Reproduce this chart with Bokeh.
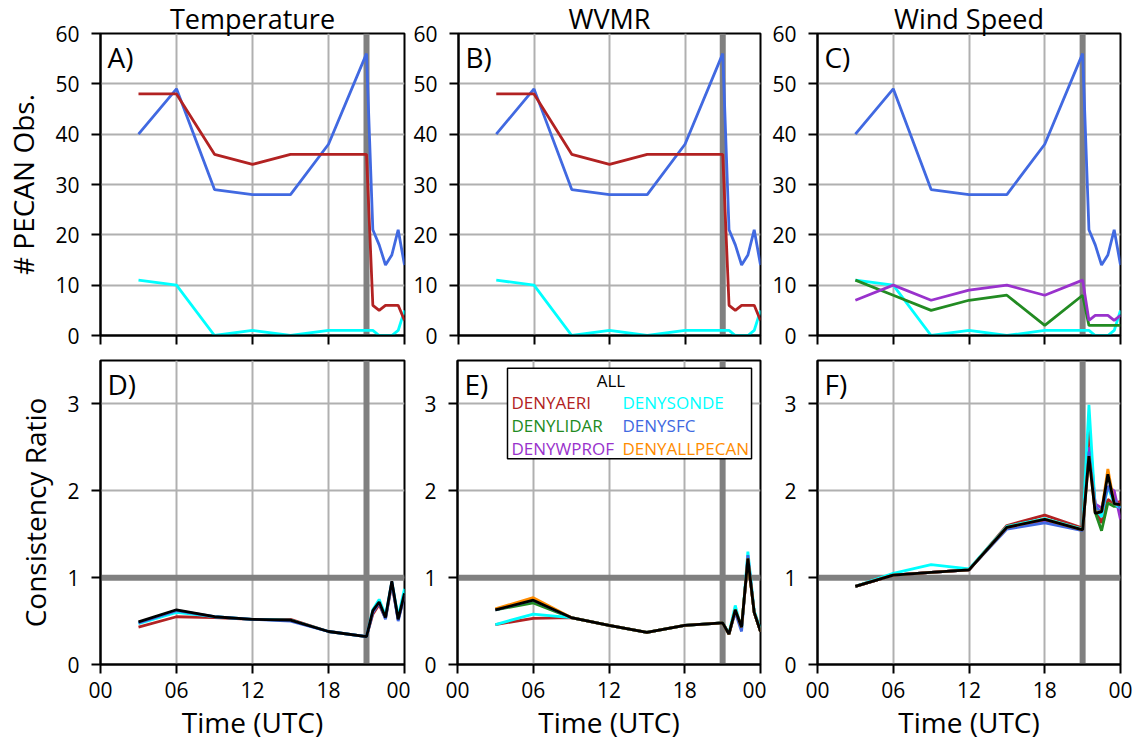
from bokeh.plotting import figure
from bokeh.layouts import column, row
from bokeh.models import Range1d, FixedTicker, Span, Label, ColumnDataSource
from bokeh.embed import file_html
from bokeh.resources import INLINE
from bokeh.core.properties import value

FONT = "Open Sans"

# ---------------- data ----------------
hours = [3, 6, 9, 12, 15, 18, 21, 21.5, 22, 22.5, 23, 23.5, 24]
x_ticks = [0, 6, 12, 18, 24]
x_tick_labels = ["00", "06", "12", "18", "00"]
obs_ticks = [0, 10, 20, 30, 40, 50, 60]
ratio_ticks = [0, 1, 2, 3]
columns_titles = ["Temperature", "WVMR", "Wind Speed"]
panel_letters = [["A)", "B)", "C)"], ["D)", "E)", "F)"]]

# number of PECAN observations (top row)
sfc_obs = [40, 49, 29, 28, 28, 38, 56, 21, 18, 14, 16, 21, 14]
aeri_obs = [48, 48, 36, 34, 36, 36, 36, 6, 5, 6, 6, 6, 3]
sonde_obs = [11, 10, 0, 1, 0, 1, 1, 1, 0, 0, 0, 1, 5]
lidar_obs = [11, 8, 5, 7, 8, 2, 8, 2, 2, 2, 2, 2, 2]
wprof_obs = [7, 10, 7, 9, 10, 8, 11, 3, 4, 4, 4, 3, 4]

# consistency ratio, temperature
all_T = [0.49, 0.63, 0.55, 0.52, 0.51, 0.38, 0.32, 0.62, 0.72, 0.54, 0.96, 0.52, 0.82]
aeri_T = [0.43, 0.55, 0.54, 0.52, 0.52, 0.38, 0.32, 0.58, 0.69, 0.53, 0.92, 0.52, 0.80]
sonde_T = [0.47, 0.60, 0.55, 0.52, 0.51, 0.38, 0.32, 0.63, 0.75, 0.56, 0.95, 0.55, 0.87]
sfc_T = [0.48, 0.62, 0.55, 0.52, 0.50, 0.38, 0.32, 0.60, 0.71, 0.52, 0.95, 0.50, 0.80]

# consistency ratio, WVMR
all_Q = [0.63, 0.74, 0.54, 0.45, 0.37, 0.45, 0.48, 0.35, 0.63, 0.43, 1.22, 0.60, 0.38]
aeri_Q = [0.46, 0.53, 0.54, 0.45, 0.37, 0.45, 0.48, 0.35, 0.62, 0.43, 1.20, 0.60, 0.38]
sonde_Q = [0.46, 0.58, 0.54, 0.45, 0.37, 0.45, 0.48, 0.36, 0.68, 0.40, 1.30, 0.62, 0.40]
lidar_Q = [0.63, 0.71, 0.54, 0.45, 0.37, 0.45, 0.48, 0.35, 0.63, 0.43, 1.22, 0.60, 0.38]
sfc_Q = [0.63, 0.74, 0.54, 0.45, 0.37, 0.45, 0.48, 0.35, 0.60, 0.38, 1.26, 0.60, 0.38]
allpecan_Q = [0.64, 0.77, 0.54, 0.45, 0.37, 0.45, 0.48, 0.35, 0.63, 0.43, 1.22, 0.60, 0.38]

# consistency ratio, wind speed
all_W = [0.90, 1.03, 1.06, 1.09, 1.58, 1.67, 1.55, 2.40, 1.74, 1.76, 2.19, 1.85, 1.84]
aeri_W = [0.90, 1.03, 1.06, 1.09, 1.60, 1.72, 1.57, 2.76, 1.80, 1.63, 1.90, 1.85, 1.88]
sonde_W = [0.90, 1.05, 1.15, 1.10, 1.59, 1.68, 1.56, 2.99, 1.80, 1.70, 2.05, 1.85, 1.80]
lidar_W = [0.90, 1.03, 1.06, 1.09, 1.58, 1.67, 1.55, 2.50, 1.75, 1.54, 1.86, 1.82, 1.82]
wprof_W = [0.90, 1.03, 1.06, 1.09, 1.58, 1.66, 1.55, 2.50, 1.85, 1.80, 2.05, 2.00, 1.67]
sfc_W = [0.90, 1.03, 1.06, 1.09, 1.56, 1.63, 1.54, 2.45, 1.82, 1.75, 2.05, 1.90, 1.80]
allpecan_W = [0.90, 1.03, 1.06, 1.09, 1.58, 1.67, 1.55, 2.40, 1.75, 1.76, 2.25, 1.85, 1.84]

legend_title = "ALL"
legend_labels = ["DENYAERI", "DENYSONDE", "DENYLIDAR", "DENYSFC", "DENYWPROF", "DENYALLPECAN"]

COL = {
    "ALL": "black",
    "DENYAERI": "#b22222",
    "DENYSONDE": "#00ffff",
    "DENYLIDAR": "#228b22",
    "DENYSFC": "#4169e1",
    "DENYWPROF": "#9932cc",
    "DENYALLPECAN": "#ff8c00",
}

top_series = [
    [("DENYSONDE", sonde_obs), ("DENYSFC", sfc_obs), ("DENYAERI", aeri_obs)],
    [("DENYSONDE", sonde_obs), ("DENYSFC", sfc_obs), ("DENYAERI", aeri_obs)],
    [("DENYSONDE", sonde_obs), ("DENYLIDAR", lidar_obs), ("DENYSFC", sfc_obs), ("DENYWPROF", wprof_obs)],
]
bottom_series = [
    [("DENYAERI", aeri_T), ("DENYSONDE", sonde_T), ("DENYSFC", sfc_T), ("ALL", all_T)],
    [("DENYAERI", aeri_Q), ("DENYLIDAR", lidar_Q), ("DENYSONDE", sonde_Q), ("DENYSFC", sfc_Q),
     ("DENYALLPECAN", allpecan_Q), ("ALL", all_Q)],
    [("DENYAERI", aeri_W), ("DENYLIDAR", lidar_W), ("DENYWPROF", wprof_W), ("DENYSONDE", sonde_W),
     ("DENYSFC", sfc_W), ("DENYALLPECAN", allpecan_W), ("ALL", all_W)],
]

# ---------------- layout ----------------
left_b = [100, 47, 51]
right_b = [6, 6, 19]
frame_w = [304, 303, 303]
row_h = [352, 392]
top_b = [33, 8]
bot_b = [17, 80]
GRID = "#b0b0b0"
REF = "#808080"


def style(p, yticks, show_xlabels, ylabel):
    p.outline_line_color = "black"
    p.outline_line_width = 2
    p.xgrid.grid_line_color = GRID
    p.ygrid.grid_line_color = GRID
    p.xgrid.grid_line_width = 2
    p.ygrid.grid_line_width = 2
    p.xaxis.ticker = FixedTicker(ticks=x_ticks)
    p.yaxis.ticker = FixedTicker(ticks=yticks)
    p.xaxis.major_label_overrides = {t: l for t, l in zip(x_ticks, x_tick_labels)}
    for ax in (p.xaxis[0], p.yaxis[0]):
        ax.minor_tick_line_color = None
        ax.major_tick_in = 0
        ax.major_tick_out = 9
        ax.major_tick_line_width = 2
        ax.major_tick_line_color = "black"
        ax.axis_line_width = 2
        ax.axis_line_color = "black"
        ax.major_label_text_font = FONT
        ax.major_label_text_font_size = "21px"
        ax.major_label_text_color = "black"
        ax.axis_label_text_font = FONT
        ax.axis_label_text_font_size = "28px"
        ax.axis_label_text_font_style = "normal"
        ax.axis_label_text_color = "black"
    p.yaxis.major_label_standoff = 12
    p.xaxis.major_label_standoff = 8
    if not show_xlabels:
        p.xaxis.major_label_text_color = None
        p.xaxis.major_label_standoff = 0
    else:
        p.xaxis.axis_label = "Time (UTC)"
        p.xaxis.axis_label_standoff = 2
    if ylabel:
        p.yaxis.axis_label = ylabel
        p.yaxis.axis_label_standoff = 10


figs = []
for r in range(2):
    row_figs = []
    for c in range(3):
        ymax = 60 if r == 0 else 3.5
        p = figure(
            width=left_b[c] + frame_w[c] + right_b[c],
            height=row_h[r],
            x_range=Range1d(0, 24),
            y_range=Range1d(0, ymax),
            output_backend="svg",
            toolbar_location=None,
            min_border_left=left_b[c],
            min_border_right=right_b[c],
            min_border_top=top_b[r],
            min_border_bottom=bot_b[r],
            background_fill_color="white",
            border_fill_color="white",
        )
        if r == 0:
            p.title.text = columns_titles[c]
            p.title.align = "center"
            p.title.text_font = FONT
            p.title.text_font_size = "27px"
            p.title.text_font_style = "normal"
            p.title.text_color = "black"
            p.title.text_line_height = 0.9
            p.title.standoff = -7
            p.title.offset = 0
        ylabel = None
        if c == 0:
            ylabel = "# PECAN Obs." if r == 0 else "Consistency Ratio"
        style(p, obs_ticks if r == 0 else ratio_ticks, r == 1, ylabel)

        vline = Span(location=21, dimension="height", line_color=REF, line_width=6, level="underlay")
        p.add_layout(vline)
        if r == 1:
            hline = Span(location=1, dimension="width", line_color=REF, line_width=6, level="underlay")
            p.add_layout(hline)

        series = top_series[c] if r == 0 else bottom_series[c]
        for name, vals in series:
            p.line(hours, vals, line_color=COL[name], line_width=2.8)

        p.add_layout(Label(x=0.55, y=ymax * 0.985, text=panel_letters[r][c],
                           text_font=FONT, text_font_size="28px", text_baseline="top",
                           text_color="black"))

        if r == 1 and c == 1:
            # legend box with coloured labels
            p.quad(left=[3.96], right=[23.29], top=[3.41], bottom=[2.37],
                   fill_color="white", line_color="black", line_width=1.5)
            p.text(x=[12.15], y=[3.27], text=[legend_title], text_color="black", text_align="center",
                   text_baseline="middle", text_font=value(FONT), text_font_size="17px")
            lx = [4.28, 13.07, 4.28, 13.07, 4.28, 13.07]
            ly = [3.02, 3.02, 2.755, 2.755, 2.49, 2.49]
            src = ColumnDataSource(dict(x=lx, y=ly, text=legend_labels,
                                        color=[COL[n] for n in legend_labels]))
            p.text(x="x", y="y", text="text", text_color="color", text_align="left",
                   text_baseline="middle", text_font=value(FONT), text_font_size="17px", source=src)
        row_figs.append(p)
    figs.append(row_figs)

layout = column(row(*figs[0]), row(*figs[1]))
open("out.html", "w").write(file_html(layout, INLINE))
